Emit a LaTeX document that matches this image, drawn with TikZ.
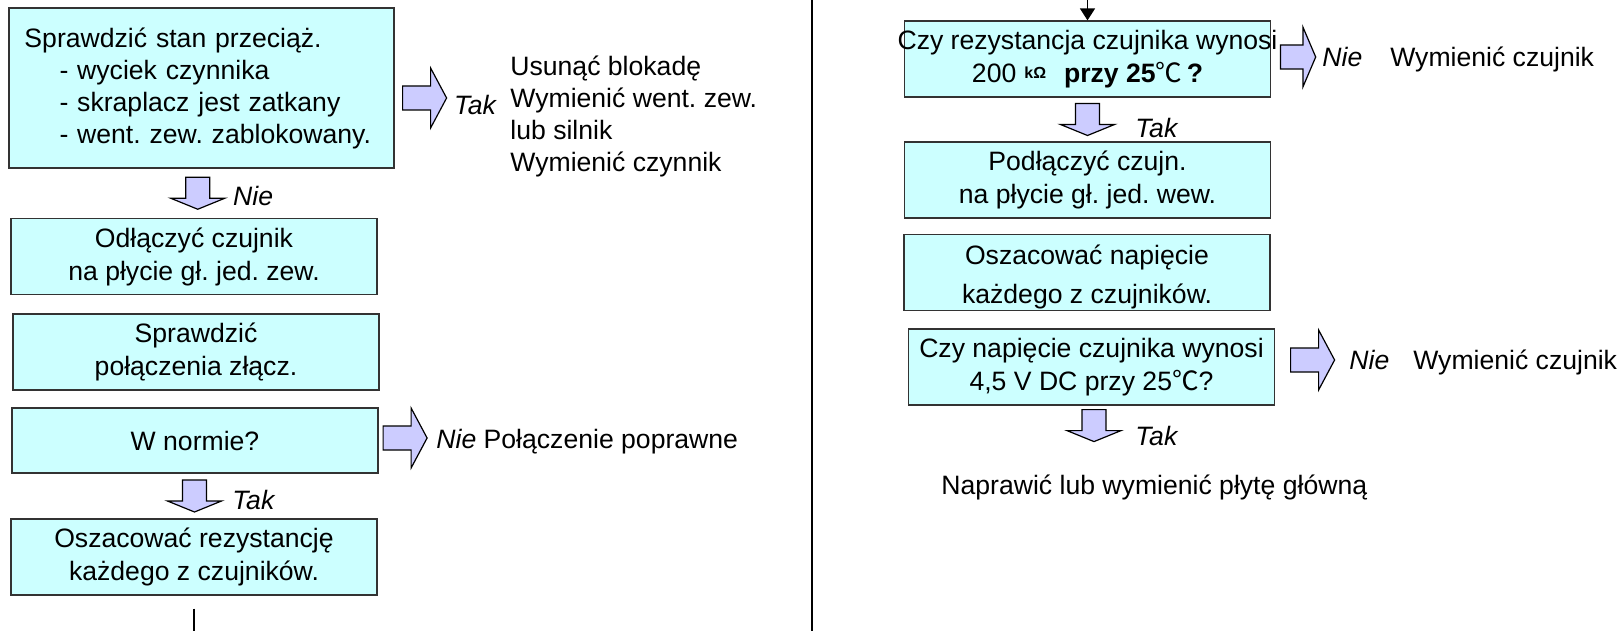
\documentclass[tikz,border=0pt]{standalone}
\usepackage{fontspec}
\setmainfont{Liberation Sans}
\newfontfamily\cjkfont{Noto Sans CJK SC}
\usetikzlibrary{arrows.meta, calc}
\frenchspacing
\definecolor{boxcyan}{HTML}{CCFFFF}
\definecolor{arrowblue}{HTML}{CCCCFF}
\newcommand\degC{{\cjkfont ℃}}
\tikzset{
  flow box/.style={
    draw=black!80,
    fill=boxcyan,
    line width=0.6pt,
    minimum width=183pt,
    minimum height=38pt,
    inner sep=0pt,
    align=center,
    font=\fontsize{13.3}{16.5}\selectfont,
  },
  flow text/.style={
    anchor=west,
    inner sep=0pt,
    align=left,
    font=\fontsize{13.3}{16}\selectfont,
  },
  answer/.style={
    flow text,
    font=\fontsize{13.3}{16}\selectfont\itshape,
  },
  fat arrow/.style={
    draw=black,
    fill=arrowblue,
    line width=0.6pt,
    line join=miter,
  },
  link/.style={
    line width=0.7pt,
    -{Triangle[length=6pt,width=7.5pt]},
  },
  pics/fat down/.style={code={
    \draw[fat arrow] (-12,-16) -- (12,-16) -- (12,5) -- (27,5) -- (0,16) -- (-27,5) -- (-12,5) -- cycle;
  }},
  pics/fat right/.style={code={
    \draw[fat arrow] (-22,-12) -- (6,-12) -- (6,-30) -- (22,0) -- (6,30) -- (6,12) -- (-22,12) -- cycle;
  }},
}

\begin{document}
\begin{tikzpicture}[x=0.5pt, y=-0.5pt]
        \useasboundingbox (0,0) rectangle (1624,631);

        % left column
        \node[flow box, minimum width=192.5pt, minimum height=80pt, text width=177pt, align=left,
              font=\fontsize{13.3}{16}\selectfont] (b1) at (201.5,88)
              {Sprawdzić stan przeciąż.\\
               \hspace*{17.5pt}- wyciek czynnika\\
               \hspace*{17.5pt}- skraplacz jest zatkany\\
               \hspace*{17.5pt}- went. zew. zablokowany.};
        \node[flow box] (b2) at (194,256.5) {Odłączyć czujnik\\na płycie gł. jed. zew.};
        \node[flow box] (b3) at (196,352)   {Sprawdzić\\połączenia złącz.};
        \node[flow box, minimum height=32.5pt] (b4) at (195,440.5) {W normie?};
        \node[flow box] (b5) at (194,557)   {Oszacować rezystancję\\każdego z czujników.};

        \coordinate (a1) at ($(b1.south)!.5!(b2.north)$);
        \pic at (a1) {fat down};
        \node[answer] (a1 lbl) at ([xshift=17.5pt, yshift=-1.5pt]a1) {Nie};

        \coordinate (a2) at ([xshift=15pt, yshift=-5pt]b1.east);
        \pic at (a2) {fat right};
        \node[answer] (a2 lbl) at ([xshift=14.5pt, yshift=-3.5pt]a2) {Tak};
        \node[flow text] (fix1) at (510,116) {Usunąć blokadę\\Wymienić went. zew.\\lub silnik\\Wymienić czynnik};

        \coordinate (a3) at ([xshift=13.25pt, yshift=1.25pt]b4.east);
        \pic at (a3) {fat right};
        \node[flow text] (fix2) at (436,442) {\textit{Nie} Połączenie poprawne};

        \coordinate (a4) at ($(b4.south)!.5!(b5.north)$);
        \pic at (a4) {fat down};
        \node[answer] (a4 lbl) at ([xshift=18.75pt, yshift=-2pt]a4) {Tak};

        \coordinate (l cut) at ([yshift=-6.5pt]b5.south);
        \coordinate (l end) at (l cut |- 0,631);
        \draw[line width=0.7pt] (l cut) -- (l end);

        % separator
        \coordinate (sep top) at (812,0);
        \coordinate (sep bot) at (812,631);
        \draw[line width=0.9pt] (sep top) -- (sep bot);

        % right column
        \node[flow box] (r1) at (1087.5,59)
              {\makebox[180pt]{Czy rezystancja czujnika wynosi}\\
               200\hspace{4pt}\raisebox{2pt}{\fontsize{8}{8}\selectfont\bfseries kΩ}\hspace{9pt}\textbf{przy 25}\degC\,\textbf{?}};
        \node[flow box] (r2) at (1087.5,180) {Podłączyć czujn.\\na płycie gł. jed. wew.};
        \node[flow box] (r3) at (1087,272.5) {\rule{0pt}{14pt}Oszacować napięcie\\[3pt]każdego z czujników.};
        \node[flow box] (r4) at (1091.5,367) {Czy napięcie czujnika wynosi\\4,5 V DC przy 25\degC?};

        \coordinate (r top) at (r1.north |- 0,0);
        \draw[link] (r top) -- (r1.north);

        \coordinate (a5) at ([xshift=13.5pt, yshift=1pt]r1.east);
        \pic[xscale=0.8] at (a5) {fat right};
        \node[flow text] (fix3) at (1322,59) {\textit{Nie}\hspace{14pt}Wymienić czujnik};

        \coordinate (a6) at ($(r1.south)!.5!(r2.north)$);
        \pic at (a6) {fat down};
        \node[answer] (a6 lbl) at ([xshift=23.75pt, yshift=-4.25pt]a6) {Tak};

        \coordinate (a7) at ([xshift=18.75pt, yshift=3.5pt]r4.east);
        \pic at (a7) {fat right};
        \node[flow text] (fix4) at (1349,362) {\textit{Nie}\hspace{12pt}Wymienić czujnik};

        \coordinate (a8) at ([xshift=1.25pt, yshift=-10pt]r4.south);
        \pic at (a8) {fat down};
        \node[answer] (a8 lbl) at ([xshift=20.5pt, yshift=-5pt]a8) {Tak};

        \node[flow text] (fix5) at (941,487) {Naprawić lub wymienić płytę główną};
\end{tikzpicture}
\end{document}
